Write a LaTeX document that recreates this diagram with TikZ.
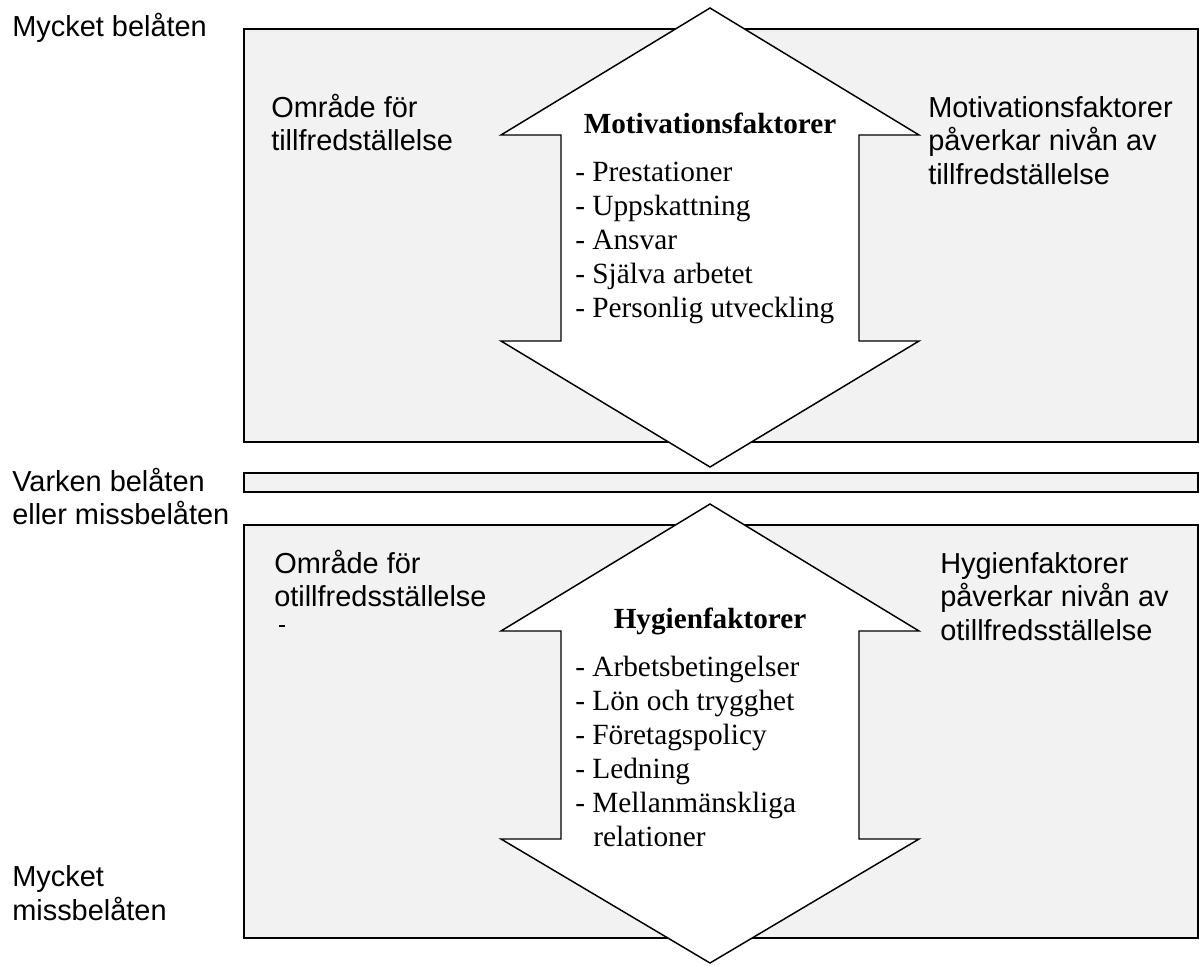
\documentclass[tikz,border=0pt]{standalone}
\usepackage{fontspec}
\setmainfont{Liberation Serif}
\setsansfont{Liberation Sans}
\usepackage{tikz}
\usetikzlibrary{calc}

\begin{document}
\begin{tikzpicture}[x=0.75pt, y=-0.75pt,
  zone/.style={draw=black, line width=1.7pt, fill=black!5},
  bigarrow/.style={draw=black, line width=1.1pt, fill=white, line join=miter},
  sidetext/.style={font=\sffamily\fontsize{21.7}{25}\selectfont, anchor=base west, inner sep=0pt},
  headtext/.style={font=\bfseries\fontsize{21.9}{25}\selectfont, anchor=base, inner sep=0pt},
  itemtext/.style={font=\fontsize{22}{25}\selectfont, anchor=base west, inner sep=0pt}]
  \useasboundingbox (0,0) rectangle (1199,965);
  % zones
  \draw[zone] (244,29) rectangle (1198,442);
  \draw[zone] (244,473) rectangle (1198,492);
  \draw[zone] (244,525) rectangle (1198,938);
  % double arrows
  \draw[bigarrow] (710,8) -- (919,135) -- (859,135) -- (859,341) -- (919,341) -- (710,467)
    -- (501,341) -- (561,341) -- (561,135) -- (501,135) -- cycle;
  \draw[bigarrow] (710,504) -- (919,631) -- (859,631) -- (859,839) -- (919,839) -- (710,963)
    -- (501,839) -- (561,839) -- (561,631) -- (501,631) -- cycle;
  \draw[line width=0.8pt] (279,626) -- (285,626);
  % left scale
  \node[sidetext] (top) at (12,36) {Mycket belåten};
  \node[sidetext] (mid1) at (12,491) {Varken belåten};
  \node[sidetext] (mid2) at (12,524.5) {eller missbelåten};
  \node[sidetext] (bot1) at (12,886) {Mycket};
  \node[sidetext] (bot2) at (12,920) {missbelåten};
  % upper zone
  \node[sidetext] (sat1) at (271,117) {Område för};
  \node[sidetext] (sat2) at (271,150.5) {tillfredställelse};
  \node[sidetext] (mot1) at (928,117) {Motivationsfaktorer};
  \node[sidetext] (mot2) at (928,150.5) {påverkar nivån av};
  \node[sidetext] (mot3) at (928,184) {tillfredställelse};
  \node[headtext] (mothead) at (710,133) {Motivationsfaktorer};
  \node[itemtext] (m1) at (575,181) {- Prestationer};
  \node[itemtext] (m2) at (575,215) {- Uppskattning};
  \node[itemtext] (m3) at (575,249) {- Ansvar};
  \node[itemtext] (m4) at (575,283) {- Själva arbetet};
  \node[itemtext] (m5) at (575,317) {- Personlig utveckling};
  % lower zone
  \node[sidetext] (dis1) at (274,573) {Område för};
  \node[sidetext] (dis2) at (274,606.5) {otillfredsställelse};
  \node[sidetext] (hyg1) at (940,573) {Hygienfaktorer};
  \node[sidetext] (hyg2) at (940,606.5) {påverkar nivån av};
  \node[sidetext] (hyg3) at (940,640) {otillfredsställelse};
  \node[headtext] (hyghead) at (710,628) {Hygienfaktorer};
  \node[itemtext] (h1) at (575,676) {- Arbetsbetingelser};
  \node[itemtext] (h2) at (575,710) {- Lön och trygghet};
  \node[itemtext] (h3) at (575,744) {- Företagspolicy};
  \node[itemtext] (h4) at (575,778) {- Ledning};
  \node[itemtext] (h5) at (575,812) {- Mellanmänskliga};
  \node[itemtext] (h6) at (593,846) {relationer};
\end{tikzpicture}
\end{document}
